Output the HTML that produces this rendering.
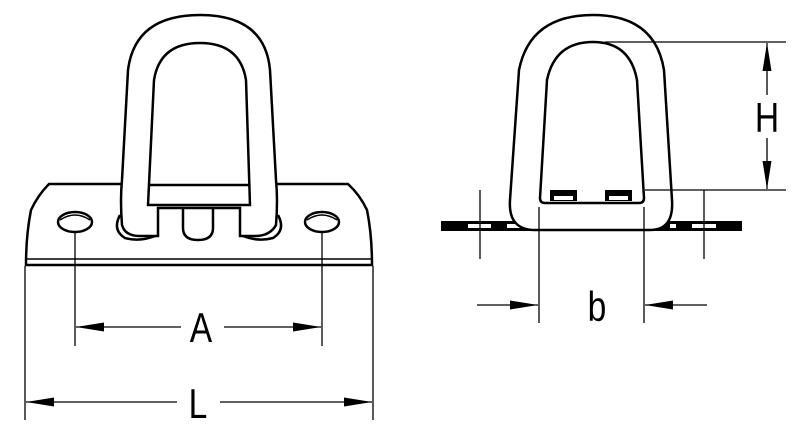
<!DOCTYPE html>
<html><head><style>html,body{margin:0;padding:0;background:#fff}svg{display:block}</style></head><body>
<svg width="800" height="431" viewBox="0 0 800 431" xmlns="http://www.w3.org/2000/svg">
<defs>
<marker id="ar" viewBox="0 0 28 9" refX="28" refY="4.5" markerWidth="28" markerHeight="9" markerUnits="userSpaceOnUse" orient="auto-start-reverse"><path d="M0,0 L28,4.5 L0,9 z" fill="#000"/></marker>
</defs>
<g fill="none" stroke="#000" stroke-width="2.5">
<path d="M49,184 L348,184 Q360,195 367,210 Q372,235 372,265 L26,265 Q26,235 31,210 Q38,195 49,184 Z" fill="#fff"/>
<line x1="26" y1="259" x2="372" y2="259" stroke-width="1.5"/>
<ellipse cx="75" cy="222" rx="17" ry="10" fill="#fff"/>
<path d="M60,220 Q75,210 90,220" stroke-width="1.5"/>
<ellipse cx="322" cy="222" rx="17" ry="10" fill="#fff"/>
<path d="M307,220 Q322,210 337,220" stroke-width="1.5"/>
<path d="M120,215 Q112,230 125,238 Q140,242 155,236 L155,205" fill="#fff"/>
<path d="M278,215 Q286,230 273,238 Q258,242 243,236 L243,205" fill="#fff"/>
<path d="M183,205 L183,228 Q183,240 198,240 Q213,240 213,228 L213,205" fill="#fff"/>
<path d="M122,225 Q120,200 122,180 L128,70 Q135,15 200,15 Q265,15 270,70 L276,180 Q278,200 276,225 Q270,236 255,236 L240,236 L240,208 L158,208 L158,236 L140,236 Q125,236 122,225 Z" fill="#fff"/>
<path d="M148,205 L154,80 Q160,43 200,43 Q240,43 246,80 L250,205 Z" fill="#fff"/>
<line x1="149" y1="185" x2="249" y2="185"/>
<rect x="441" y="221" width="301" height="10" fill="#000" stroke="none"/>
<g fill="#fff" stroke="none">
<rect x="468" y="224" width="23" height="4"/><rect x="507" y="224" width="14" height="4"/>
<rect x="670" y="224" width="6" height="4"/><rect x="692" y="224" width="24" height="4"/>
</g>
<path d="M510,200 L519,70 Q530,15 593,15 Q655,15 664,70 L672,200 Q674,230 650,230 L535,230 Q508,230 510,200 Z" fill="#fff"/>
<path d="M540,198 L547,80 Q555,42 593,42 Q630,42 637,80 L644,198 Q644,203 639,203 L545,203 Q540,203 540,198 Z" fill="#fff"/>
<rect x="550" y="190" width="27" height="11" fill="#000" stroke="none"/>
<rect x="605" y="190" width="27" height="11" fill="#000" stroke="none"/>
<rect x="554" y="196" width="19" height="4" fill="#fff" stroke="none"/>
<rect x="609" y="196" width="19" height="4" fill="#fff" stroke="none"/>
</g>
<g fill="none" stroke="#000" stroke-width="1.3">
<line x1="75" y1="232" x2="75" y2="346"/><line x1="322" y1="232" x2="322" y2="346"/>
<line x1="25" y1="266" x2="25" y2="420"/><line x1="373" y1="266" x2="373" y2="420"/>
<line x1="76" y1="327" x2="181" y2="327" marker-start="url(#ar)"/>
<line x1="224" y1="327" x2="321" y2="327" marker-end="url(#ar)"/>
<line x1="26" y1="402" x2="177" y2="402" marker-start="url(#ar)"/>
<line x1="220" y1="402" x2="372" y2="402" marker-end="url(#ar)"/>
<line x1="605" y1="42" x2="786" y2="42"/><line x1="645" y1="190" x2="786" y2="190"/>
<line x1="767" y1="43" x2="767" y2="95" marker-start="url(#ar)"/>
<line x1="767" y1="138" x2="767" y2="189" marker-end="url(#ar)"/>
<line x1="480" y1="190" x2="480" y2="259"/><line x1="704" y1="190" x2="704" y2="259"/>
<line x1="539" y1="207" x2="539" y2="323"/><line x1="644" y1="207" x2="644" y2="323"/>
<line x1="477" y1="305" x2="538" y2="305" marker-end="url(#ar)"/>
<line x1="707" y1="305" x2="645" y2="305" marker-end="url(#ar)"/>
</g>
<g font-family="Liberation Sans, sans-serif" font-size="42" text-anchor="middle" fill="#000">
<text transform="translate(201,342) scale(0.8,1)">A</text>
<text transform="translate(198,418) scale(0.8,1)">L</text>
<text transform="translate(597,321) scale(0.8,1)">b</text>
<text transform="translate(767,132) scale(0.8,1)">H</text>
</g>
</svg>
</body></html>
